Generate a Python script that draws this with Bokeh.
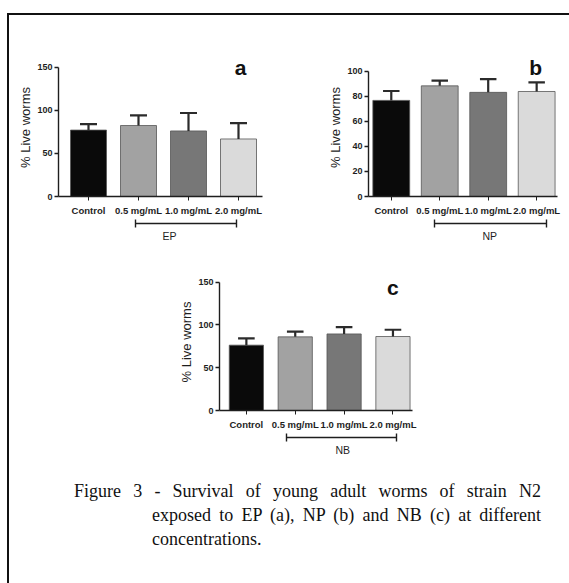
from bokeh.plotting import figure
from bokeh.models import (Range1d, FixedTicker, LinearAxis, Label, Div, Spacer,
                          ColumnDataSource, Title)
from bokeh.layouts import column, row
from bokeh.embed import file_html
from bokeh.resources import INLINE
import numpy as np

# ---------------- data ----------------
categories = ["Control", "0.5 mg/mL", "1.0 mg/mL", "2.0 mg/mL"]
bar_colors = ["#0a0a0a", "#a2a2a2", "#777777", "#dadada"]

ep_mean = [77.0, 82.3, 76.0, 66.7]
ep_err = [7.0, 11.8, 20.8, 18.4]

np_mean = [76.6, 88.2, 83.0, 83.7]
np_err = [7.5, 4.1, 10.6, 7.3]

nb_mean = [76.3, 86.0, 89.4, 86.4]
nb_err = [8.0, 6.2, 7.9, 7.9]

groups = ["EP", "NP", "NB"]
letters = ["a", "b", "c"]
yticks_150 = [0, 50, 100, 150]
yticks_100 = [0, 20, 40, 60, 80, 100]

caption_lines = [
    "Figure 3 - Survival of young adult worms of strain N2",
    "exposed to EP (a), NP (b) and NB (c) at different",
    "concentrations.",
]

FONT = "Liberation Sans"
AX = "#1e1e1e"


def panel(mean, err, group, letter, yticks, ymax, ytop, xr, bw, width, height,
          bl, br, bt, bb, letter_x, letter_y, bracket, group_offset):
    xs = np.arange(1, len(categories) + 1, dtype=float)
    mean = np.asarray(mean, dtype=float)
    err = np.asarray(err, dtype=float)
    p = figure(width=width, height=height, x_range=Range1d(*xr),
               y_range=Range1d(0, ytop), output_backend="svg",
               toolbar_location=None, min_border_left=bl, min_border_right=br,
               min_border_top=bt, min_border_bottom=bb)
    p.outline_line_color = None
    p.grid.visible = False
    p.background_fill_color = "white"
    p.border_fill_color = "white"

    src = ColumnDataSource(dict(x=xs, top=mean, color=bar_colors,
                                lo=mean, hi=mean + err,
                                c0=xs - 0.17, c1=xs + 0.17))
    p.vbar(x="x", top="top", width=bw, fill_color="color", line_color="#555555",
           line_width=0.8, source=src)
    p.segment(x0="x", y0="lo", x1="x", y1="hi", line_width=2.2,
              line_color="#2b2b2b", source=src)
    p.segment(x0="c0", y0="hi", x1="c1", y1="hi", line_width=2.2,
              line_color="#2b2b2b", source=src)

    ya = p.yaxis[0]
    ya.ticker = FixedTicker(ticks=yticks)
    ya.bounds = (0, ymax)
    ya.axis_line_color = AX
    ya.axis_line_width = 1.4
    ya.major_tick_line_color = AX
    ya.major_tick_line_width = 1.4
    ya.major_tick_out = 4
    ya.major_tick_in = 0
    ya.minor_tick_out = 0
    ya.minor_tick_in = 0
    ya.major_label_standoff = 2
    ya.major_label_text_font = FONT
    ya.major_label_text_font_style = "bold"
    ya.major_label_text_font_size = "9px"
    ya.major_label_text_color = AX
    ya.axis_label = "% Live worms"
    ya.axis_label_text_font = FONT
    ya.axis_label_text_font_style = "normal"
    ya.axis_label_text_font_size = "13px"
    ya.axis_label_text_color = AX
    ya.axis_label_standoff = 1

    xa = p.xaxis[0]
    xa.ticker = FixedTicker(ticks=list(xs))
    xa.major_label_overrides = {float(x): c for x, c in zip(xs, categories)}
    xa.axis_line_color = AX
    xa.axis_line_width = 1.4
    xa.major_tick_line_color = AX
    xa.major_tick_line_width = 1.0
    xa.major_tick_out = 4
    xa.major_tick_in = 0
    xa.minor_tick_out = 0
    xa.minor_tick_in = 0
    xa.major_label_standoff = 4
    xa.major_label_text_font = FONT
    xa.major_label_text_font_style = "bold"
    xa.major_label_text_font_size = "9.5px"
    xa.major_label_text_color = AX
    xa.axis_label = " "
    xa.axis_label_text_font_size = "1px"
    xa.axis_label_standoff = 1

    lo, hi = bracket
    bax = LinearAxis(ticker=FixedTicker(ticks=[lo, hi]), bounds=(lo, hi))
    bax.major_label_overrides = {lo: "", hi: ""}
    bax.major_label_standoff = 0
    bax.major_label_text_font_size = "1px"
    bax.axis_line_color = AX
    bax.axis_line_width = 1.4
    bax.major_tick_line_color = AX
    bax.major_tick_line_width = 1.4
    bax.major_tick_in = 4
    bax.major_tick_out = 4
    bax.minor_tick_out = 0
    bax.minor_tick_in = 0
    p.add_layout(bax, "below")

    p.add_layout(Title(text=group, align="left", offset=group_offset, standoff=0,
                       text_font=FONT, text_font_style="normal",
                       text_font_size="10.5px", text_color=AX), "below")

    p.add_layout(Label(x=letter_x, y=letter_y, text=letter, text_align="center",
                       text_baseline="middle", text_font=FONT,
                       text_font_style="bold", text_font_size="21px",
                       text_color="#111111"))
    return p


pa = panel(ep_mean, ep_err, groups[0], letters[0], yticks_150, 150, 160,
           (0.4, 4.48), 0.72, 280, 230, 49, 27, 43, 46, 4.04, 150, (1.94, 3.96), 104)
pb = panel(np_mean, np_err, groups[1], letters[1], yticks_100, 100, 110,
           (0.53, 4.43), 0.76, 278, 230, 79, 10, 43, 49, 3.98, 103, (1.9, 4.2), 114)
pc = panel(nb_mean, nb_err, groups[2], letters[2], yticks_150, 150, 160,
           (0.45, 4.40), 0.70, 292, 210, 69, 30, 28, 45, 4.0, 144, (1.83, 4.08), 116)

serif = "'Liberation Serif', 'Times New Roman', serif"
cap_html = (
    f'<div style="font-family:{serif};font-size:18px;line-height:24px;color:#111;padding-top:19px;">'
    f'<div style="margin-left:60px;width:467px;text-align:justify;text-align-last:justify;">{caption_lines[0]}</div>'
    f'<div style="margin-left:138px;width:389px;text-align:justify;text-align-last:justify;">{caption_lines[1]}</div>'
    f'<div style="margin-left:138px;">{caption_lines[2]}</div>'
    '</div>'
)
cap = Div(text=cap_html, width=551, height=124)

inner = column(row(pa, pb), row(Spacer(width=141, height=210), pc), cap,
               styles={"border-top": "2px solid #111", "border-left": "2px solid #111"})
root = column(Spacer(width=560, height=13), row(Spacer(width=7, height=10), inner))

open("out.html", "w").write(file_html(root, INLINE))
